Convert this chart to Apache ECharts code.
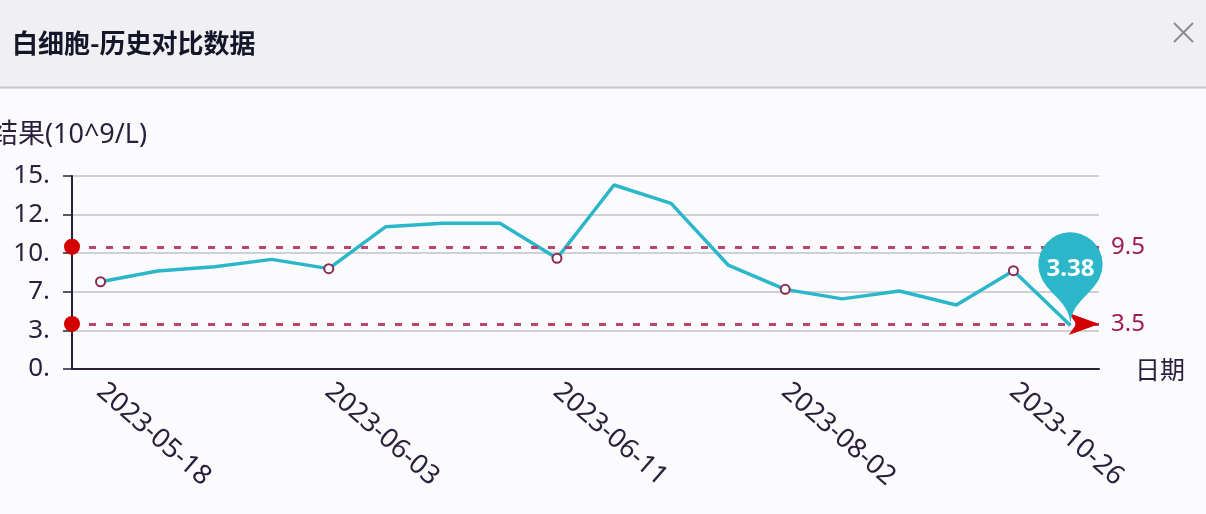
<!DOCTYPE html>
<html>
<head>
<meta charset="utf-8">
<script src="https://cdn.jsdelivr.net/npm/echarts@6/dist/echarts.min.js"></script>
<style>
  html, body { margin: 0; padding: 0; background: #fbfbfd; }
  #chart { width: 1206px; height: 514px; }
</style>
</head>
<body>
<div id="chart"></div>
<script>
// ---- data ----
const titleText = '白细胞-历史对比数据';
const yAxisName = '结果(10^9/L)';
const xAxisName = '日期';
const dates = [
  '2023-05-18', '2023-05-22', '2023-05-26', '2023-05-30',
  '2023-06-03', '2023-06-05', '2023-06-07', '2023-06-09',
  '2023-06-11', '2023-06-20', '2023-07-05', '2023-07-18',
  '2023-08-02', '2023-08-20', '2023-09-10', '2023-10-01',
  '2023-10-26', '2023-11-08'
];
const wbcValues = [6.78, 7.61, 7.95, 8.52, 7.8, 11.06, 11.32, 11.32, 8.6, 14.3, 12.87, 8.08, 6.19, 5.45, 6.06, 4.97, 7.64, 3.38];
const yTickLabels = ['0.', '3.', '7.', '10.', '12.', '15.'];
const refUpper = 9.5;
const refLower = 3.5;

const numFont = '"Noto Sans", "Noto Sans CJK SC", sans-serif';
const textColor = '#2a1f3a';
const refColor = '#b9456a';
const refSymbolColor = '#d40000';
const refLabelColor = '#9e1a57';
const lineColor = '#2bb6ca';

const chart = echarts.init(document.getElementById('chart'));

function refLineItems(v) {
  return [
    {
      yAxis: v,
      symbol: 'none',
      lineStyle: { color: refColor, type: [7, 10], width: 3 },
      label: { show: true, position: 'end', distance: 12, formatter: String(v),
               color: refLabelColor, fontSize: 24, fontFamily: numFont }
    },
    {
      yAxis: v,
      lineStyle: { color: refSymbolColor, width: 0.01, type: 'solid', opacity: 1 },
      label: { show: false }
    }
  ];
}

chart.setOption({
  backgroundColor: '#fbfbfd',
  animation: false,
  title: {
    text: titleText,
    left: 12, top: 30, padding: 0,
    textStyle: { fontSize: 26, fontWeight: 'bold', color: '#16162a', fontFamily: '"Noto Sans CJK SC", sans-serif' }
  },
  graphic: [
    { type: 'rect', z: -10, shape: { x: 0, y: 0, width: 1206, height: 87 }, style: { fill: '#f0f0f3' } },
    { type: 'line', z: -9, shape: { x1: 0, y1: 87.5, x2: 1206, y2: 87.5 }, style: { stroke: '#c6c6cc', lineWidth: 2 } },
    { type: 'line', shape: { x1: 1174, y1: 23, x2: 1193, y2: 42 }, style: { stroke: '#8c8c90', lineWidth: 2 } },
    { type: 'line', shape: { x1: 1193, y1: 23, x2: 1174, y2: 42 }, style: { stroke: '#8c8c90', lineWidth: 2 } }
  ],
  grid: { left: 72, right: 107, top: 176, bottom: 145, outerBoundsMode: 'none', containLabel: false },
  xAxis: {
    type: 'category',
    data: dates,
    boundaryGap: true,
    name: xAxisName,
    nameLocation: 'end',
    nameGap: 36,
    nameTextStyle: { fontSize: 25, color: textColor, fontFamily: '"Noto Sans CJK SC", sans-serif' },
    axisLine: { lineStyle: { color: '#2a2035', width: 2 } },
    axisTick: { interval: 3, length: 8, lineStyle: { color: '#2a2035', width: 1.5 } },
    axisLabel: { interval: 3, rotate: -41, margin: 19, fontSize: 27, color: textColor, fontFamily: numFont }
  },
  yAxis: {
    type: 'value',
    min: 0, max: 15, interval: 3,
    name: yAxisName,
    nameLocation: 'end',
    nameGap: 27,
    nameTextStyle: { fontSize: 27, color: textColor, fontFamily: numFont, padding: [0, 6, 0, 0] },
    axisLine: { show: true, lineStyle: { color: '#2a2035', width: 2 } },
    axisTick: { show: true, length: 9, lineStyle: { color: '#2a2035', width: 1.5 } },
    axisLabel: {
      margin: 22, fontSize: 26, color: textColor, fontFamily: numFont,
      formatter: function (v) { return yTickLabels[Math.round(v / 3)]; }
    },
    splitLine: { lineStyle: { color: '#c2c2ca', width: 1.5 } }
  },
  series: [{
    type: 'line',
    data: wbcValues,
    showAllSymbol: true,
    symbol: function (v, p) { return p.dataIndex % 4 === 0 ? 'emptyCircle' : 'none'; },
    symbolSize: 9,
    lineStyle: { color: lineColor, width: 3.5 },
    itemStyle: { color: '#8a2a55', borderColor: '#8a2a55', borderWidth: 2 },
    markLine: {
      silent: true,
      symbol: ['circle', 'arrow'],
      symbolSize: [16, 30],
      symbolOffset: 0,
      data: refLineItems(refUpper).concat(refLineItems(refLower))
    },
    markPoint: {
      silent: true,
      symbol: 'pin',
      symbolSize: 107,
      itemStyle: { color: lineColor },
      label: { show: true, color: '#ffffff', fontSize: 24, fontWeight: 'bold', fontFamily: numFont },
      data: [{ type: 'min' }]
    }
  }]
});
</script>
</body>
</html>
